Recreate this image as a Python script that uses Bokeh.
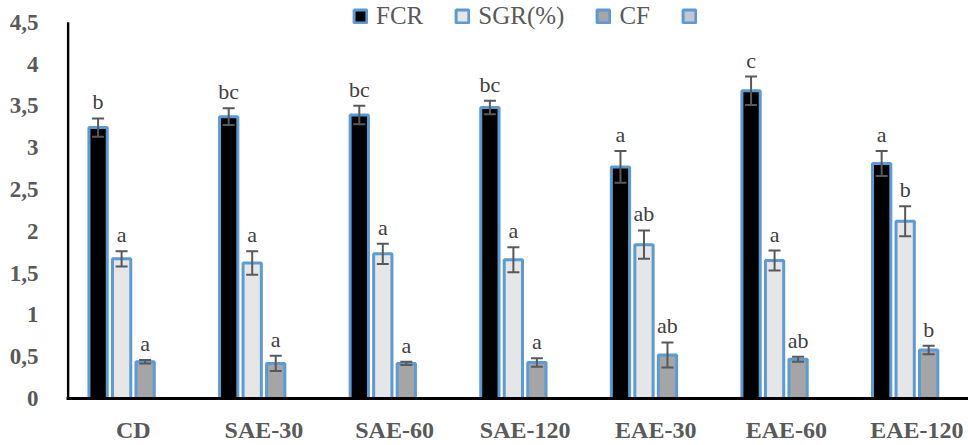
import numpy as np
from bokeh.plotting import figure
from bokeh.models import (ColumnDataSource, Whisker, TeeHead, Legend, LegendItem,
                          FixedTicker, Range1d)
from bokeh.core.properties import value
from bokeh.embed import file_html
from bokeh.resources import INLINE

# Growth performance per diet
groups = ["CD", "SAE-30", "SAE-60", "SAE-120", "EAE-30", "EAE-60", "EAE-120"]
fcr = [3.24, 3.37, 3.39, 3.48, 2.77, 3.68, 2.81]
fcr_err = [0.11, 0.10, 0.11, 0.08, 0.19, 0.17, 0.15]
fcr_sig = ["b", "bc", "bc", "bc", "a", "c", "a"]
sgr = [1.67, 1.62, 1.73, 1.66, 1.84, 1.65, 2.12]
sgr_err = [0.09, 0.14, 0.12, 0.15, 0.17, 0.12, 0.18]
sgr_sig = ["a", "a", "a", "a", "ab", "a", "b"]
cf = [0.44, 0.42, 0.42, 0.43, 0.52, 0.47, 0.58]
cf_err = [0.02, 0.09, 0.02, 0.05, 0.15, 0.03, 0.05]
cf_sig = ["a", "a", "a", "a", "ab", "ab", "b"]
series_names = ["FCR", "SGR(%)", "CF", "\u00a0"]
y_ticks = [0, 0.5, 1, 1.5, 2, 2.5, 3, 3.5, 4, 4.5]
y_tick_labels = ["0", "0,5", "1", "1,5", "2", "2,5", "3", "3,5", "4", "4,5"]

FILLS = ["#000000", "#e7e6e6", "#a5a5a5", "#c3c7ce"]
EDGE = "#5b9bd5"
OFFSETS = [-0.27, -0.09, 0.09, 0.27]
BAR_W = 0.14
SERIF = "'Liberation Serif', 'Times New Roman', serif"

p = figure(width=968, height=445, output_backend="svg", toolbar_location=None,
           x_range=Range1d(-0.012, 6.895), y_range=Range1d(0, 4.76),
           min_border_left=66, min_border_right=0, min_border_top=0,
           min_border_bottom=43)
p.outline_line_color = None
p.xgrid.visible = False
p.ygrid.visible = False
p.background_fill_color = "white"
p.border_fill_color = "white"

centers = np.arange(len(groups)) + 0.5
renderers = []
for i, (vals, errs, sig) in enumerate([(fcr, fcr_err, fcr_sig),
                                         (sgr, sgr_err, sgr_sig),
                                         (cf, cf_err, cf_sig)]):
    v = np.array(vals)
    e = np.array(errs)
    src = ColumnDataSource(dict(x=centers + OFFSETS[i], top=v,
                                upper=v + e, lower=v - e, sig=sig))
    r = p.vbar(x="x", top="top", width=BAR_W, source=src,
               fill_color=FILLS[i], line_color=EDGE, line_width=3)
    renderers.append(r)
    p.add_layout(Whisker(source=src, base="x", upper="upper", lower="lower",
                         level="overlay", line_color="#595959", line_width=2,
                         upper_head=TeeHead(size=12, line_color="#595959", line_width=2),
                         lower_head=TeeHead(size=12, line_color="#595959", line_width=2)))
    p.text(x="x", y="upper", text="sig", source=src, y_offset=-4,
           text_align="center", text_baseline="bottom",
           text_font=value(SERIF), text_font_size="22px", text_color="#404040")

# fourth series: no bars, shown only in the legend
r_blank = p.vbar(x=[-10], top=[0], width=BAR_W, fill_color=FILLS[3],
                 line_color=EDGE, line_width=3)
renderers.append(r_blank)

# left axis line, stopping at the top tick
p.segment(x0=[0], y0=[0], x1=[0], y1=[4.5], line_color="black", line_width=2.5)

p.yaxis.ticker = FixedTicker(ticks=y_ticks)
p.yaxis.major_label_overrides = {t: l for t, l in zip(y_ticks, y_tick_labels)}
p.yaxis.axis_line_color = None
p.yaxis.major_tick_line_color = None
p.yaxis.minor_tick_line_color = None
p.yaxis.major_label_standoff = 22
p.yaxis.major_label_text_font = SERIF
p.yaxis.major_label_text_font_style = "bold"
p.yaxis.major_label_text_font_size = "23px"
p.yaxis.major_label_text_color = "#595959"

p.xaxis.ticker = FixedTicker(ticks=list(centers))
p.xaxis.major_label_overrides = {float(c): g for c, g in zip(centers, groups)}
p.xaxis.axis_line_color = "black"
p.xaxis.axis_line_width = 3
p.xaxis.major_tick_line_color = None
p.xaxis.minor_tick_line_color = None
p.xaxis.major_label_standoff = 12
p.xaxis.major_label_text_font = SERIF
p.xaxis.major_label_text_font_style = "bold"
p.xaxis.major_label_text_font_size = "24px"
p.xaxis.major_label_text_color = "#595959"

legend = Legend(items=[LegendItem(label=n, renderers=[r])
                       for n, r in zip(series_names, renderers)],
                orientation="horizontal", location=(286, 368),
                border_line_color=None, background_fill_alpha=0,
                padding=0, margin=0, spacing=31, label_standoff=8,
                glyph_width=16, glyph_height=16,
                label_text_font=SERIF, label_text_font_size="25px",
                label_text_color="#595959")
p.add_layout(legend)

open("out.html", "w").write(file_html(p, INLINE))
